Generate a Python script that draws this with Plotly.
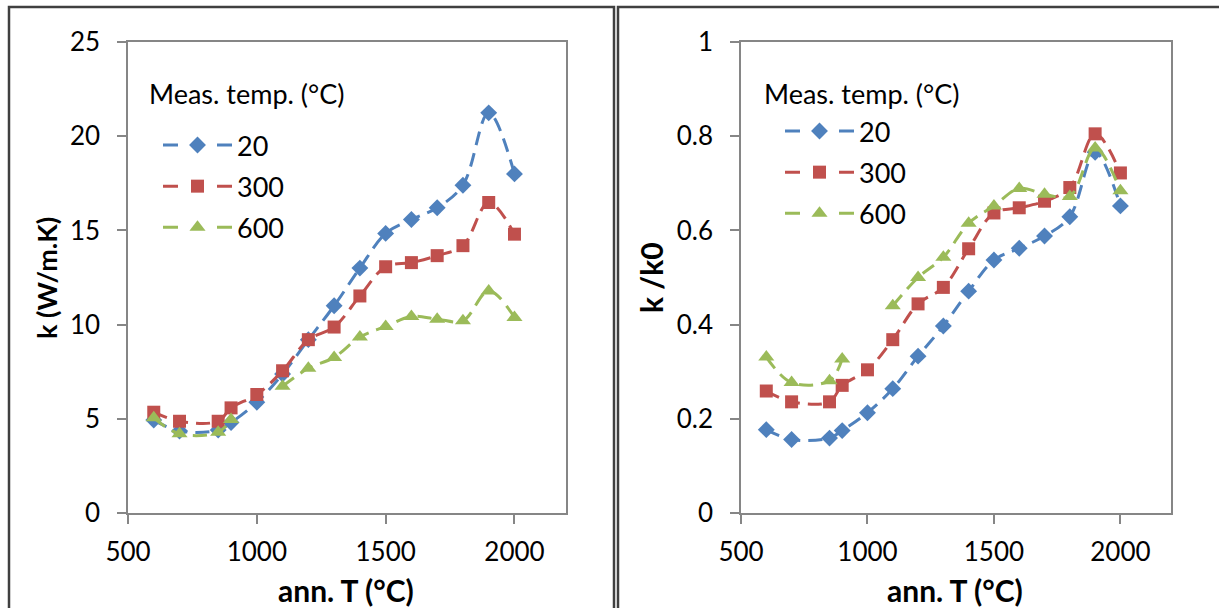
import plotly.graph_objects as go

W, H = 1219, 608

ann_T = [600, 700, 850, 900, 1000, 1100, 1200, 1300, 1400, 1500, 1600, 1700, 1800, 1900, 2000]
series_names = ["20", "300", "600"]

k_20 = [4.93, 4.35, 4.40, 4.80, 5.88, 7.38, 9.20, 11.0, 13.0, 14.84, 15.58, 16.2, 17.4, 21.24, 18.0]
k_300 = [5.35, 4.87, 4.87, 5.58, 6.29, 7.55, 9.20, 9.87, 11.52, 13.07, 13.29, 13.66, 14.19, 16.48, 14.8]
k_600 = [5.05, 4.20, 4.29, 4.96, None, 6.73, 7.68, 8.26, 9.34, 9.90, 10.43, 10.29, 10.20, 11.79, 10.38]

r_20 = [0.177, 0.156, 0.159, 0.175, 0.213, 0.264, 0.333, 0.397, 0.471, 0.537, 0.562, 0.588, 0.629, 0.766, 0.652]
r_300 = [0.259, 0.236, 0.236, 0.271, 0.304, 0.368, 0.444, 0.479, 0.561, 0.637, 0.648, 0.662, 0.691, 0.805, 0.722]
r_600 = [0.331, 0.277, 0.281, 0.327, None, 0.440, 0.500, 0.543, 0.615, 0.652, 0.689, 0.677, 0.672, 0.775, 0.684]

colors = ["#4F81BD", "#C0504D", "#9BBB59"]
symbols = ["diamond", "square", "triangle-up"]
msizes = [13, 13, 14]

FONT = "Lato"

fig = go.Figure()

left_sets = [k_20, k_300, k_600]
right_sets = [r_20, r_300, r_600]

panels = [("x", "y", "legend", "L", left_sets), ("x2", "y2", "legend2", "R", right_sets)]
for xa, ya, lg, tag, sets in panels:
    for i, (name, ys) in enumerate(zip(series_names, sets)):
        # data trace
        fig.add_trace(go.Scatter(
            x=ann_T, y=ys, name=name, mode="lines+markers",
            line=dict(color=colors[i], width=3, dash="14px,8px", shape="spline"),
            marker=dict(symbol=symbols[i], size=msizes[i], color=colors[i]),
            xaxis=xa, yaxis=ya, showlegend=False, legendgroup=tag + name,
            connectgaps=False,
        ))
        # legend entry (Excel-style "– marker –" symbol)
        fig.add_trace(go.Scatter(
            x=[None], y=[None], name=name, mode="lines+markers",
            line=dict(color=colors[i], width=3, dash="15px,39px,15px"),
            marker=dict(symbol=symbols[i], size=msizes[i], color=colors[i]),
            xaxis=xa, yaxis=ya, legend=lg, legendgroup=tag + name, showlegend=True,
        ))

def px_x(p):
    return p / W

def px_y(p):
    return 1 - p / H

axis_common = dict(
    showline=True, linecolor="#868686", linewidth=1.5, mirror=True,
    ticks="outside", ticklen=9, tickcolor="#868686", tickwidth=1.5,
    showgrid=False, zeroline=False, automargin=False,
    tickfont=dict(family=FONT, size=26, color="black"),
)

y_dom = [px_y(513), px_y(42)]

legend_common = dict(
    xanchor="left", yanchor="top",
    font=dict(family=FONT, size=27, color="black"),
    itemwidth=69, tracegroupgap=3, traceorder="grouped",
    bgcolor="rgba(0,0,0,0)", borderwidth=0,
)

fig.update_layout(
    template="none",
    width=W, height=H,
    margin=dict(l=0, r=0, t=0, b=0, autoexpand=False),
    paper_bgcolor="white", plot_bgcolor="white",
    font=dict(family=FONT, color="black"),
    xaxis=dict(domain=[px_x(128), px_x(566)], range=[500, 2200], tick0=500, dtick=500,
               anchor="y", ticklabelstandoff=6, **axis_common),
    yaxis=dict(domain=y_dom, range=[0, 25], tick0=0, dtick=5, anchor="x",
               ticklabelstandoff=12, **axis_common),
    xaxis2=dict(domain=[px_x(741), px_x(1171)], range=[500, 2200], tick0=500, dtick=500,
                anchor="y2", ticklabelstandoff=6, **axis_common),
    yaxis2=dict(domain=y_dom, range=[0, 1], tick0=0, dtick=0.2, anchor="x2",
                ticklabelstandoff=12, **axis_common),
    legend=dict(x=px_x(158), y=px_y(121), **legend_common),
    legend2=dict(x=px_x(780), y=px_y(107), **legend_common),
    showlegend=True,
)

annotations = [
    dict(text="Meas. temp. (°C)", x=px_x(147), y=px_y(94), xanchor="left", yanchor="middle",
         font=dict(family=FONT, size=27, color="black")),
    dict(text="Meas. temp. (°C)", x=px_x(762), y=px_y(93), xanchor="left", yanchor="middle",
         font=dict(family=FONT, size=27, color="black")),
    dict(text="<b>ann. T (°C)</b>", x=px_x(346), y=px_y(590), xanchor="center", yanchor="middle",
         font=dict(family=FONT, size=30, color="black")),
    dict(text="<b>ann. T (°C)</b>", x=px_x(955), y=px_y(590), xanchor="center", yanchor="middle",
         font=dict(family=FONT, size=30, color="black")),
    dict(text="<b>k (W/m.K)</b>", x=px_x(46), y=px_y(278), xanchor="center", yanchor="middle",
         textangle=-90, font=dict(family=FONT, size=27, color="black")),
    dict(text="<b>k /k0</b>", x=px_x(651), y=px_y(278), xanchor="center", yanchor="middle",
         textangle=-90, font=dict(family=FONT, size=30, color="black")),
]
for a in annotations:
    a.update(xref="paper", yref="paper", showarrow=False)
fig.update_layout(annotations=annotations)

shapes = [
    dict(type="rect", x0=px_x(9), x1=px_x(614), y0=px_y(7), y1=px_y(620),
         line=dict(color="#404040", width=2.5)),
    dict(type="rect", x0=px_x(618), x1=px_x(1230), y0=px_y(7), y1=px_y(620),
         line=dict(color="#404040", width=2.5)),
]
for s in shapes:
    s.update(xref="paper", yref="paper", layer="below")
fig.update_layout(shapes=shapes)

fig.write_html(
    "out.html",
    config={"displayModeBar": False},
    post_script="document.body.style.margin='0';document.body.style.padding='0';"
                "document.documentElement.style.overflow='hidden';",
)
